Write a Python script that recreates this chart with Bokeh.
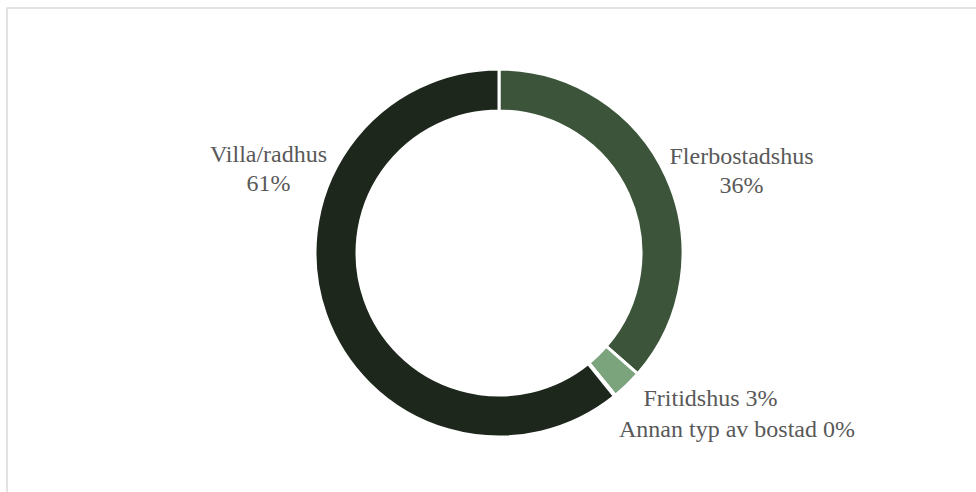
import numpy as np
from bokeh.plotting import figure
from bokeh.models import Range1d, ColumnDataSource
from bokeh.core.properties import value
from bokeh.embed import file_html
from bokeh.resources import INLINE

categories = ["Flerbostadshus", "Fritidshus", "Annan typ av bostad", "Villa/radhus"]
shares = [36.4, 2.7, 0.1, 60.8]
pct_labels = ["36%", "3%", "0%", "61%"]
colors = ["#3c553a", "#7ba37c", "#a9c4a6", "#1d271c"]

W, H = 976, 492
p = figure(width=W, height=H, output_backend="svg", toolbar_location=None,
           x_range=Range1d(0, W), y_range=Range1d(0, H), min_border=0)
p.axis.visible = False
p.grid.visible = False
p.outline_line_color = None
p.background_fill_color = "white"
p.border_fill_color = "white"

# chart area border
p.quad(left=[6.5], right=[990], top=[H - 7.5], bottom=[-10],
       fill_color=None, line_color="#d9d9d9", line_width=1.5)

cx, cy = 498.5, H - 252.5
r_out, r_in = 184, 142

vals = np.array(shares, dtype=float)
frac = vals / vals.sum()
ends = np.cumsum(frac) * 2 * np.pi
starts = ends - frac * 2 * np.pi
src = ColumnDataSource(dict(
    start=np.pi / 2 - starts,
    end=np.pi / 2 - ends,
    color=colors,
))
p.annular_wedge(x=cx, y=cy, inner_radius=r_in, outer_radius=r_out,
                start_angle="start", end_angle="end", direction="clock",
                fill_color="color", line_color="white", line_width=3, source=src)

# labels
lab_x = [741, 268, 710, 736.5]
lab_y1 = [155, 153, 397, 428]
texts = [
    (categories[0], lab_x[0], lab_y1[0]),
    (pct_labels[0], lab_x[0], lab_y1[0] + 29),
    (categories[3], lab_x[1], lab_y1[1]),
    (pct_labels[3], lab_x[1], lab_y1[1] + 29),
    (categories[1] + " " + pct_labels[1], lab_x[2], lab_y1[2]),
    (categories[2] + " " + pct_labels[2], lab_x[3], lab_y1[3]),
]
tsrc = ColumnDataSource(dict(
    t=[t[0] for t in texts],
    x=[t[1] for t in texts],
    y=[H - t[2] for t in texts],
))
p.text(x="x", y="y", text="t", source=tsrc, text_align="center",
       text_baseline="alphabetic", text_font=value("Liberation Serif"),
       text_font_size="24px", text_color="#595959")

open("out.html", "w").write(file_html(p, INLINE))
